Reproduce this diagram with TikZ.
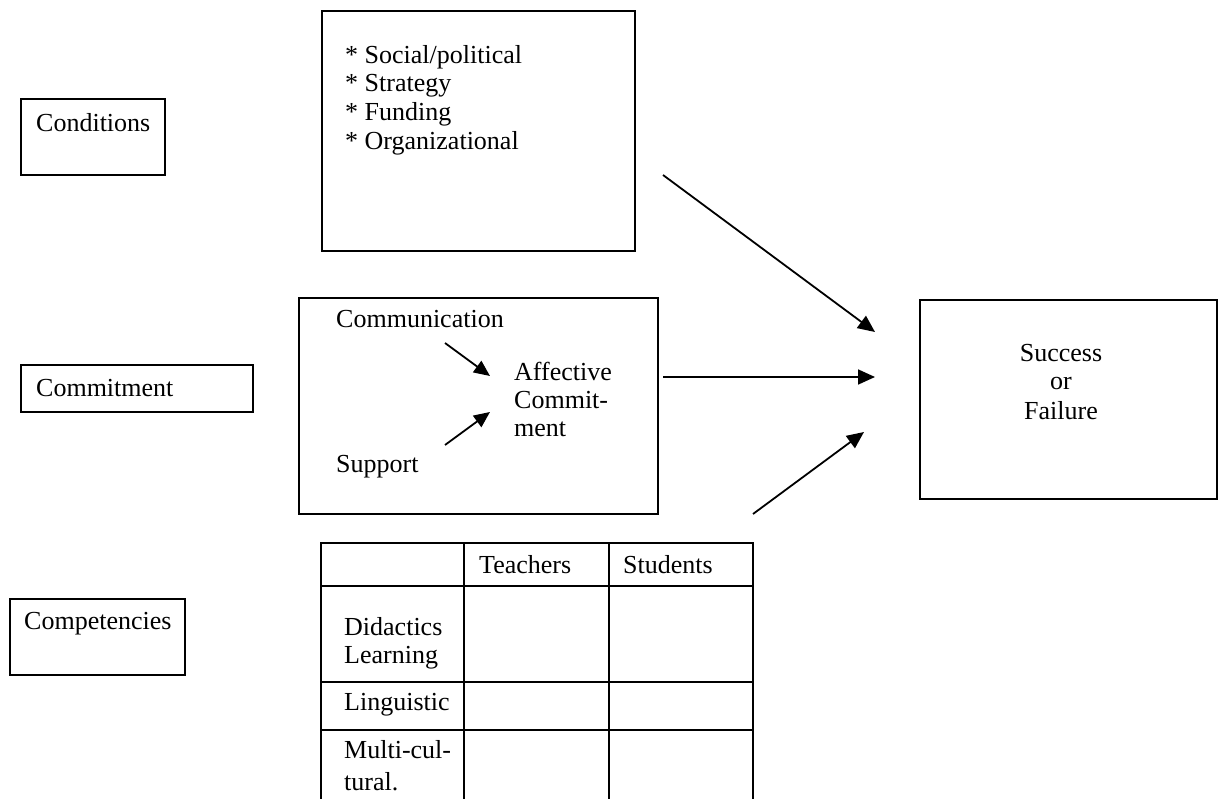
\documentclass[tikz,border=0pt]{standalone}
\usepackage{fontspec}
\setmainfont{Liberation Serif}
\usetikzlibrary{arrows.meta}
\begin{document}
\begin{tikzpicture}[x=1pt,y=-1pt,
  box/.style={draw=black,line width=1.6pt,anchor=north west,inner sep=0pt},
  txt/.style={anchor=base west,inner sep=0pt,font=\fontsize{26pt}{29pt}\selectfont},
  ctxt/.style={anchor=base,inner sep=0pt,font=\fontsize{26pt}{29pt}\selectfont},
  arr/.style={line width=1.8pt,-{Triangle[length=17pt,width=15pt]}},
  sarr/.style={line width=1.8pt,-{Triangle[length=16pt,width=14pt]}},
  tline/.style={line width=1.6pt}]
\useasboundingbox (0,0) rectangle (1219,799);
% left labels
\node[box,minimum width=144pt,minimum height=76pt] (condbox) at (20,98) {};
\node[txt] (condtxt) at (36,132) {Conditions};
\node[box,minimum width=232pt,minimum height=47pt] (commbox) at (20,364) {};
\node[txt] (commtxt) at (36,397) {Commitment};
\node[box,minimum width=175pt,minimum height=76pt] (compbox) at (9,598) {};
\node[txt] (comptxt) at (24,629) {Competencies};
% conditions box
\node[box,minimum width=313pt,minimum height=240pt] (socbox) at (321,10) {};
\node[txt] (s1) at (345,64) {* Social/political};
\node[txt] (s2) at (345,92) {* Strategy};
\node[txt] (s3) at (345,121) {* Funding};
\node[txt] (s4) at (345,150) {* Organizational};
% commitment box
\node[box,minimum width=359pt,minimum height=216pt] (midbox) at (298,297) {};
\node[txt] (comm) at (336,328) {Communication};
\node[txt] (aff1) at (514,381) {Affective};
\node[txt] (aff2) at (514,409) {Commit-};
\node[txt] (aff3) at (514,437) {ment};
\node[txt] (supp) at (336,473) {Support};
\coordinate (ca1) at (445,343); \coordinate (ca2) at (490,376);
\coordinate (sa1) at (445,445); \coordinate (sa2) at (490,412);
\draw[sarr] (ca1) -- (ca2);
\draw[sarr] (sa1) -- (sa2);
% success box
\node[box,minimum width=297pt,minimum height=199pt] (succbox) at (919,299) {};
\node[ctxt] (succ1) at (1061,362) {Success};
\node[ctxt] (succ2) at (1061,390) {or};
\node[ctxt] (succ3) at (1061,420) {Failure};
% main arrows
\coordinate (a1s) at (663,175); \coordinate (a1e) at (875,332);
\coordinate (a2s) at (663,377); \coordinate (a2e) at (875,377);
\coordinate (a3s) at (753,514); \coordinate (a3e) at (864,432);
\draw[arr] (a1s) -- (a1e);
\draw[arr] (a2s) -- (a2e);
\draw[arr] (a3s) -- (a3e);
% table
\draw[tline] (321,800) -- (321,543) -- (753,543) -- (753,800);
\draw[tline] (464,543) -- (464,800);
\draw[tline] (609,543) -- (609,800);
\draw[tline] (321,586) -- (753,586);
\draw[tline] (321,682) -- (753,682);
\draw[tline] (321,730) -- (753,730);
\node[txt] (teach) at (479,573) {Teachers};
\node[txt] (stud) at (623,573) {Students};
\node[txt] (did1) at (344,635) {Didactics};
\node[txt] (did2) at (344,663) {Learning};
\node[txt] (ling) at (344,710) {Linguistic};
\node[txt] (mc1) at (344,758) {Multi-cul-};
\node[txt] (mc2) at (344,790) {tural.};
\end{tikzpicture}
\end{document}
